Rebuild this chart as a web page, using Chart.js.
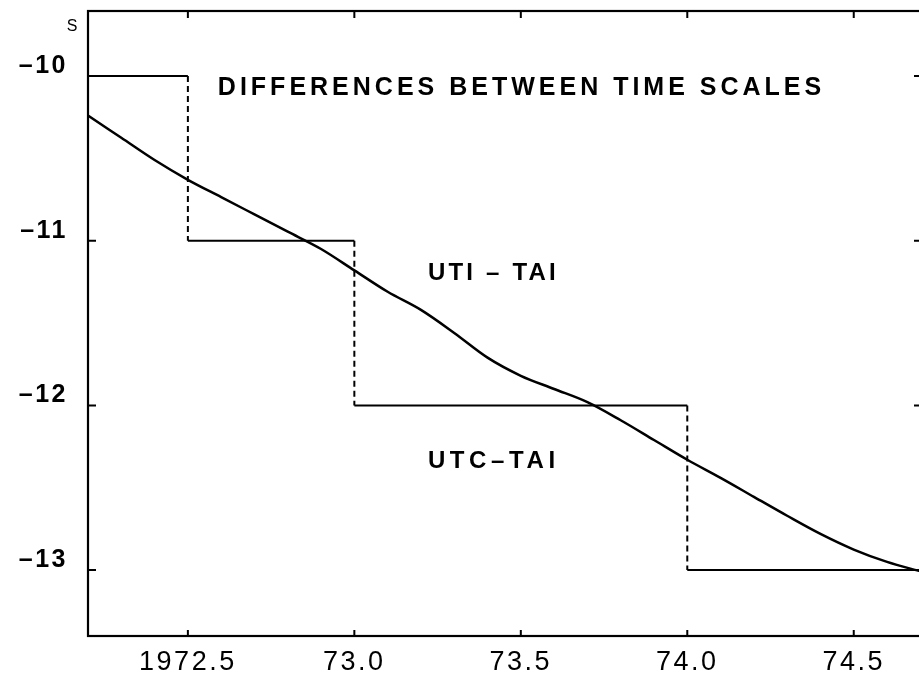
<!DOCTYPE html>
<html>
<head>
<meta charset="utf-8">
<script src="https://cdn.jsdelivr.net/npm/chart.js@4/dist/chart.umd.min.js"></script>
<style>
  html, body { margin: 0; padding: 0; background: #fff; overflow: hidden; }
  #wrap { position: absolute; left: 0; top: 0; width: 925px; height: 683px; }
</style>
</head>
<body>
<div id="wrap"><canvas id="c" width="925" height="683"></canvas></div>
<script>
// ---- data ----
const xRange = [1972.2, 1974.705];
const yRange = [-13.4, -9.605];
const xTickValues = [1972.5, 1973.0, 1973.5, 1974.0, 1974.5];
const xTickLabels = ["1972.5", "73.0", "73.5", "74.0", "74.5"];
const yTickValues = [-10, -11, -12, -13];
const yTickLabels = ["–10", "–11", "–12", "–13"];
const yUnit = "S";

// UTC - TAI step function: leap second dates and the offset in force between them
const leapDates = [1972.5, 1973.0, 1974.0];
const utcOffsets = [-10, -11, -12, -13];

// UT1 - TAI curve
const ut1Years = [1972.2, 1972.3, 1972.4, 1972.5, 1972.6, 1972.7, 1972.8, 1972.9,
                  1973.0, 1973.1, 1973.2, 1973.3, 1973.4, 1973.5, 1973.6, 1973.7,
                  1973.8, 1973.9, 1974.0, 1974.1, 1974.2, 1974.3, 1974.4, 1974.5,
                  1974.6, 1974.705];
const ut1Values = [-10.24, -10.375, -10.51, -10.63, -10.735, -10.84, -10.945, -11.05,
                   -11.18, -11.31, -11.42, -11.56, -11.71, -11.82, -11.90, -11.98,
                   -12.09, -12.21, -12.33, -12.44, -12.555, -12.67, -12.78, -12.875,
                   -12.95, -13.01];

const titleText = "DIFFERENCES BETWEEN TIME SCALES";
const ut1Label = "UTI – TAI";
const utcLabel = "UTC–TAI";

// ---- build datasets ----
const bounds = [xRange[0], ...leapDates, xRange[1]];
const horizPts = [];
for (let i = 0; i < utcOffsets.length; i++) {
  horizPts.push({x: bounds[i], y: utcOffsets[i]});
  horizPts.push({x: bounds[i + 1], y: utcOffsets[i]});
  if (i < utcOffsets.length - 1) horizPts.push({x: bounds[i + 1], y: null});
}
const vertPts = [];
leapDates.forEach((d, i) => {
  vertPts.push({x: d, y: utcOffsets[i]});
  vertPts.push({x: d, y: utcOffsets[i + 1]});
  if (i < leapDates.length - 1) vertPts.push({x: d, y: null});
});
const ut1Pts = ut1Years.map((x, i) => ({x, y: ut1Values[i]}));

const FONT = "'Liberation Sans', Arial, Helvetica, sans-serif";

const decor = {
  id: 'decor',
  beforeDraw(chart) {
    chart.ctx.letterSpacing = '2.5px';
  },
  afterDraw(chart) {
    const ctx = chart.ctx;
    const a = chart.chartArea;
    const xs = chart.scales.x, ys = chart.scales.y;
    ctx.save();
    ctx.strokeStyle = '#000';
    ctx.lineWidth = 2.2;
    ctx.strokeRect(a.left, a.top, a.right - a.left, a.bottom - a.top);
    // inward tick marks
    ctx.lineWidth = 2;
    ctx.beginPath();
    xTickValues.forEach(v => {
      const px = xs.getPixelForValue(v);
      ctx.moveTo(px, a.bottom); ctx.lineTo(px, a.bottom - 6);
      ctx.moveTo(px, a.top); ctx.lineTo(px, a.top + 7);
    });
    yTickValues.forEach(v => {
      const py = ys.getPixelForValue(v);
      ctx.moveTo(a.left, py); ctx.lineTo(a.left + 8, py);
      ctx.moveTo(a.right, py); ctx.lineTo(a.right - 8, py);
    });
    ctx.stroke();
    // texts
    ctx.fillStyle = '#000';
    ctx.textBaseline = 'middle';
    ctx.textAlign = 'left';
    ctx.font = 'bold 25px ' + FONT;
    ctx.letterSpacing = '4px';
    ctx.fillText(titleText, xs.getPixelForValue(1972.59), ys.getPixelForValue(-10.075));
    ctx.font = 'bold 24px ' + FONT;
    ctx.letterSpacing = '3.2px';
    ctx.fillText(ut1Label, xs.getPixelForValue(1973.221), ys.getPixelForValue(-11.20));
    ctx.letterSpacing = '4.6px';
    ctx.fillText(utcLabel, xs.getPixelForValue(1973.221), ys.getPixelForValue(-12.34));
    ctx.font = '16px ' + FONT;
    ctx.letterSpacing = '0px';
    ctx.textAlign = 'center';
    ctx.fillText(yUnit, a.left - 16, ys.getPixelForValue(-9.70));
    ctx.restore();
  }
};

new Chart(document.getElementById('c'), {
  type: 'line',
  data: {
    datasets: [
      { data: horizPts, borderColor: '#000', borderWidth: 2, pointRadius: 0, spanGaps: false, tension: 0 },
      { data: vertPts, borderColor: '#000', borderWidth: 2, borderDash: [6, 4], pointRadius: 0, spanGaps: false, tension: 0 },
      { data: ut1Pts, borderColor: '#000', borderWidth: 2.5, pointRadius: 0, cubicInterpolationMode: 'monotone' }
    ]
  },
  options: {
    responsive: false,
    animation: false,
    devicePixelRatio: 1,
    layout: { padding: { top: 11, right: 3, left: 0, bottom: 0 } },
    plugins: { legend: { display: false }, tooltip: { enabled: false } },
    scales: {
      x: {
        type: 'linear', min: xRange[0], max: xRange[1],
        grid: { display: false, drawTicks: false },
        border: { display: false },
        afterBuildTicks: s => { s.ticks = xTickValues.map(v => ({value: v})); },
        afterFit: s => { s.height = 47; s.paddingLeft = 0; s.paddingRight = 0; },
        ticks: {
          autoSkip: false, maxRotation: 0, padding: 10, color: '#000',
          font: { family: FONT, size: 27, weight: 'normal' },
          callback: (v) => { const i = xTickValues.indexOf(v); return i >= 0 ? xTickLabels[i] : ''; }
        }
      },
      y: {
        type: 'linear', min: yRange[0], max: yRange[1],
        grid: { display: false, drawTicks: false },
        border: { display: false },
        afterBuildTicks: s => { s.ticks = yTickValues.map(v => ({value: v})); },
        afterFit: s => { s.width = 88; s.paddingTop = 0; s.paddingBottom = 0; },
        ticks: {
          autoSkip: false, padding: 20, color: '#000', labelOffset: -10,
          font: { family: FONT, size: 25, weight: 'bold' },
          callback: (v) => { const i = yTickValues.indexOf(v); return i >= 0 ? yTickLabels[i] : ''; }
        }
      }
    }
  },
  plugins: [decor]
});
</script>
</body>
</html>
